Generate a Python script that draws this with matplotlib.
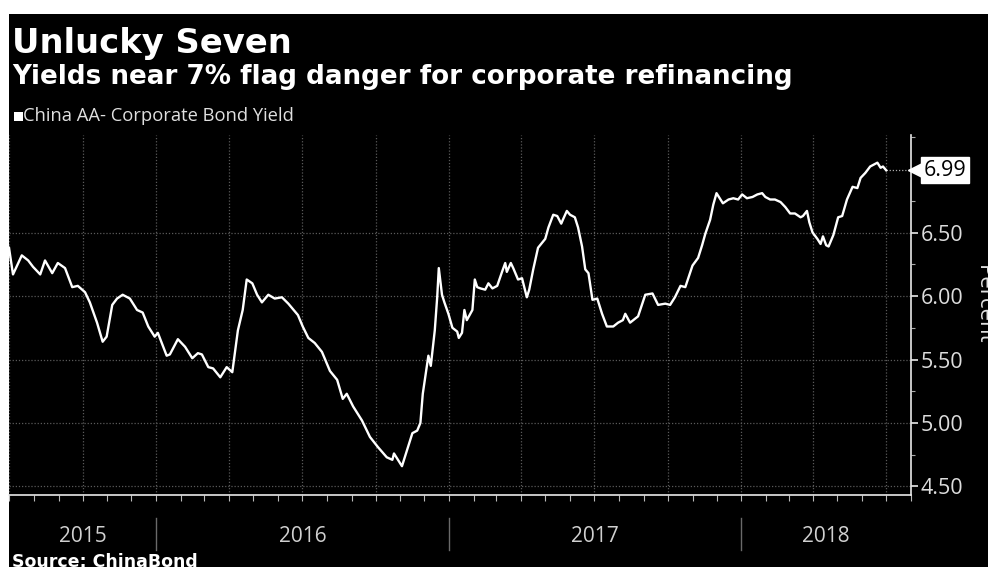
import matplotlib
matplotlib.use("Agg")
import matplotlib.pyplot as plt
import matplotlib.dates as mdates
from matplotlib.patches import Rectangle
import numpy as np
import datetime as dt

# ---------------- data ----------------
dates = [
    "2015-07-01", "2015-07-06", "2015-07-17", "2015-07-25", "2015-07-31", "2015-08-09", "2015-08-15",
    "2015-08-24", "2015-08-31", "2015-09-09", "2015-09-18", "2015-09-25", "2015-10-04", "2015-10-10",
    "2015-10-19", "2015-10-26", "2015-10-31", "2015-11-07", "2015-11-13", "2015-11-20", "2015-11-29",
    "2015-12-08", "2015-12-15", "2015-12-22", "2015-12-30", "2016-01-03", "2016-01-14", "2016-01-18",
    "2016-01-28", "2016-02-06", "2016-02-15", "2016-02-22", "2016-02-27", "2016-03-06", "2016-03-12",
    "2016-03-21", "2016-03-29", "2016-04-05", "2016-04-12", "2016-04-18", "2016-04-23", "2016-04-30",
    "2016-05-06", "2016-05-12", "2016-05-20", "2016-05-28", "2016-06-06", "2016-06-14", "2016-06-26",
    "2016-07-02", "2016-07-09", "2016-07-17", "2016-07-26", "2016-08-05", "2016-08-14", "2016-08-21",
    "2016-08-26", "2016-09-03", "2016-09-14", "2016-09-24", "2016-10-04", "2016-10-15", "2016-10-22",
    "2016-10-24", "2016-10-29", "2016-11-03", "2016-11-09", "2016-11-16", "2016-11-22", "2016-11-26",
    "2016-11-29", "2016-12-06", "2016-12-09", "2016-12-14", "2016-12-17", "2016-12-19", "2016-12-23",
    "2016-12-26", "2016-12-31", "2017-01-05", "2017-01-11", "2017-01-13", "2017-01-17", "2017-01-20",
    "2017-01-23", "2017-01-30", "2017-02-02", "2017-02-05", "2017-02-09", "2017-02-15", "2017-02-19",
    "2017-02-24", "2017-03-02", "2017-03-08", "2017-03-12", "2017-03-14", "2017-03-19", "2017-03-22",
    "2017-03-28", "2017-04-02", "2017-04-08", "2017-04-11", "2017-04-16", "2017-04-22", "2017-05-01",
    "2017-05-05", "2017-05-11", "2017-05-16", "2017-05-21", "2017-05-23", "2017-05-28", "2017-06-01",
    "2017-06-07", "2017-06-11", "2017-06-16", "2017-06-20", "2017-06-24", "2017-06-29", "2017-07-05",
    "2017-07-11", "2017-07-17", "2017-07-25", "2017-07-31", "2017-08-06", "2017-08-09", "2017-08-15",
    "2017-08-21", "2017-08-25", "2017-09-03", "2017-09-12", "2017-09-19", "2017-09-28", "2017-10-04",
    "2017-10-10", "2017-10-17", "2017-10-23", "2017-11-01", "2017-11-08", "2017-11-13", "2017-11-17",
    "2017-11-23", "2017-11-27", "2017-12-01", "2017-12-06", "2017-12-09", "2017-12-16", "2017-12-22",
    "2017-12-28", "2018-01-02", "2018-01-08", "2018-01-15", "2018-01-21", "2018-01-27", "2018-01-31",
    "2018-02-06", "2018-02-12", "2018-02-19", "2018-02-25", "2018-03-03", "2018-03-09", "2018-03-16",
    "2018-03-19", "2018-03-24", "2018-03-27", "2018-03-31", "2018-04-06", "2018-04-10", "2018-04-13",
    "2018-04-17", "2018-04-20", "2018-04-26", "2018-05-02", "2018-05-07", "2018-05-13", "2018-05-20",
    "2018-05-26", "2018-05-30", "2018-06-05", "2018-06-11", "2018-06-20", "2018-06-24", "2018-06-27",
    "2018-07-01",
]
yields = [
    6.38, 6.17, 6.32, 6.28, 6.23, 6.17, 6.28,
    6.18, 6.26, 6.22, 6.07, 6.08, 6.03, 5.95,
    5.79, 5.64, 5.68, 5.93, 5.98, 6.01, 5.98,
    5.89, 5.87, 5.76, 5.68, 5.71, 5.53, 5.54,
    5.66, 5.60, 5.51, 5.55, 5.54, 5.44, 5.43,
    5.36, 5.44, 5.40, 5.73, 5.89, 6.13, 6.10,
    6.01, 5.95, 6.01, 5.98, 5.99, 5.94, 5.85,
    5.76, 5.67, 5.63, 5.56, 5.41, 5.34, 5.19,
    5.23, 5.13, 5.02, 4.89, 4.81, 4.73, 4.71,
    4.76, 4.71, 4.66, 4.78, 4.92, 4.94, 5.00,
    5.23, 5.53, 5.45, 5.73, 5.99, 6.22, 6.01,
    5.95, 5.86, 5.75, 5.72, 5.67, 5.71, 5.89,
    5.81, 5.89, 6.13, 6.07, 6.06, 6.05, 6.10,
    6.06, 6.08, 6.19, 6.26, 6.19, 6.26, 6.22,
    6.13, 6.14, 5.99, 6.05, 6.21, 6.38, 6.45,
    6.54, 6.64, 6.63, 6.57, 6.60, 6.67, 6.64,
    6.62, 6.54, 6.39, 6.21, 6.18, 5.97, 5.98,
    5.86, 5.76, 5.76, 5.79, 5.81, 5.86, 5.79,
    5.82, 5.84, 6.01, 6.02, 5.93, 5.94, 5.93,
    5.99, 6.08, 6.07, 6.24, 6.30, 6.40, 6.49,
    6.60, 6.72, 6.81, 6.76, 6.73, 6.76, 6.77,
    6.76, 6.80, 6.77, 6.78, 6.80, 6.81, 6.78,
    6.76, 6.76, 6.74, 6.70, 6.65, 6.65, 6.62,
    6.63, 6.67, 6.58, 6.50, 6.45, 6.41, 6.47,
    6.40, 6.39, 6.48, 6.62, 6.63, 6.76, 6.86,
    6.85, 6.93, 6.97, 7.02, 7.05, 7.01, 7.02,
    6.99,
]
last_value_label = "6.99"
y_ticks = [4.50, 5.00, 5.50, 6.00, 6.50]
year_labels = ["2015", "2016", "2017", "2018"]
title = "Unlucky Seven"
subtitle = "Yields near 7% flag danger for corporate refinancing"
legend_label = "China AA- Corporate Bond Yield"
source = "Source: ChinaBond"
y_label = "Percent"

x = [dt.datetime.strptime(d, "%Y-%m-%d") for d in dates]
x_start = dt.datetime(2015, 7, 1)
x_end = dt.datetime(2018, 8, 1)

W, H = 988, 567
fig = plt.figure(figsize=(W / 100, H / 100), dpi=100, facecolor="white")
fig.patches.append(Rectangle((9 / W, 0), 1, 1 - 14 / H, transform=fig.transFigure,
                             facecolor="black", edgecolor="none", zorder=-10))

ax = fig.add_axes([9 / W, 72 / H, 902 / W, 360 / H])
ax.set_facecolor("black")
ax.plot(x, yields, color="white", lw=1.7, solid_joinstyle="round", zorder=3)

ax.set_xlim(x_start, x_end)
ax.set_ylim(4.433, 7.268)

# spines
for s in ["left", "top"]:
    ax.spines[s].set_visible(False)
for s in ["right", "bottom"]:
    ax.spines[s].set_color("#e8e8e8")
    ax.spines[s].set_linewidth(1.2)

# y axis on right
ax.yaxis.tick_right()
ax.set_yticks(y_ticks)
ax.set_yticklabels([f"{v:.2f}" for v in y_ticks])
ax.set_yticks([4.75, 5.25, 5.75, 6.25, 6.75, 7.25], minor=True)
ax.tick_params(axis="y", which="major", colors="#e8e8e8", length=5, width=1.2,
               labelsize=15.5, labelcolor="#dddddd", pad=2)
ax.tick_params(axis="y", which="minor", colors="#aaaaaa", length=3, width=0.8)
for lab in ax.get_yticklabels():
    lab.set_family("Open Sans")

# x axis
ax.xaxis.set_major_locator(mdates.MonthLocator(bymonth=[1, 4, 7, 10]))
ax.xaxis.set_minor_locator(mdates.MonthLocator())
ax.xaxis.set_major_formatter(plt.NullFormatter())
ax.tick_params(axis="x", which="both", colors="#bbbbbb", length=4, width=0.8, direction="out")

ax.grid(True, which="major", color="#5a5a5a", linestyle=(0, (1, 1.5)), linewidth=0.9)
ax.set_axisbelow(True)

# year labels and separators
trans = ax.get_xaxis_transform()
bounds = [x_start, dt.datetime(2016, 1, 1), dt.datetime(2017, 1, 1), dt.datetime(2018, 1, 1), x_end]
for i, lab in enumerate(year_labels):
    a = mdates.date2num(bounds[i])
    b = mdates.date2num(bounds[i + 1])
    ax.text((a + b) / 2, (495 - 537) / 360, lab, transform=trans, ha="center", va="center",
            color="#d0d0d0", fontsize=15, family="Open Sans")
for bd in bounds[1:4]:
    xd = mdates.date2num(bd)
    ax.plot([xd, xd], [(495 - 518) / 360, (495 - 550) / 360], transform=trans,
            color="#6a6a6a", lw=1, clip_on=False)

# last value marker + dotted guide
ax.plot([x[-1], x_end], [yields[-1], yields[-1]], color="#aaaaaa", lw=0.9,
        linestyle=(0, (1, 1.5)), zorder=2)
ax.annotate(last_value_label, xy=(1.0, yields[-1]), xycoords=("axes fraction", "data"),
            xytext=(9, 0), textcoords="offset points", ha="left", va="center",
            fontsize=15.5, color="black", family="Open Sans",
            bbox=dict(boxstyle="square,pad=0.12", facecolor="white", edgecolor="white"),
            annotation_clip=False)
ax.plot([1.0 + 5 / 902], [yields[-1]], transform=ax.get_yaxis_transform(), marker="<",
        color="white", markersize=11, clip_on=False, zorder=5)

# y label
fig.text(983 / W, 1 - 305 / H, y_label, rotation=270, ha="center", va="center",
         color="#e0e0e0", fontsize=16, family="Open Sans")

# titles
fig.text(12 / W, 1 - 53 / H, title, ha="left", va="baseline", color="white",
         fontsize=24.3, fontweight="bold", family="DejaVu Sans")
fig.text(12 / W, 1 - 84 / H, subtitle, ha="left", va="baseline", color="white",
         fontsize=18.8, fontweight="bold", family="DejaVu Sans")
# legend
fig.patches.append(Rectangle((14 / W, 1 - 121 / H), 9 / W, 9 / H, transform=fig.transFigure,
                             facecolor="white", edgecolor="none"))
fig.text(23 / W, 1 - 116 / H, legend_label, ha="left", va="center", color="#e0e0e0",
         fontsize=13.2, family="Open Sans")
# source
fig.text(12 / W, 1 - 553 / H, source, ha="left", va="top", color="white",
         fontsize=12.5, fontweight="bold", family="DejaVu Sans")

fig.savefig("out.png", dpi=100, facecolor="white")
